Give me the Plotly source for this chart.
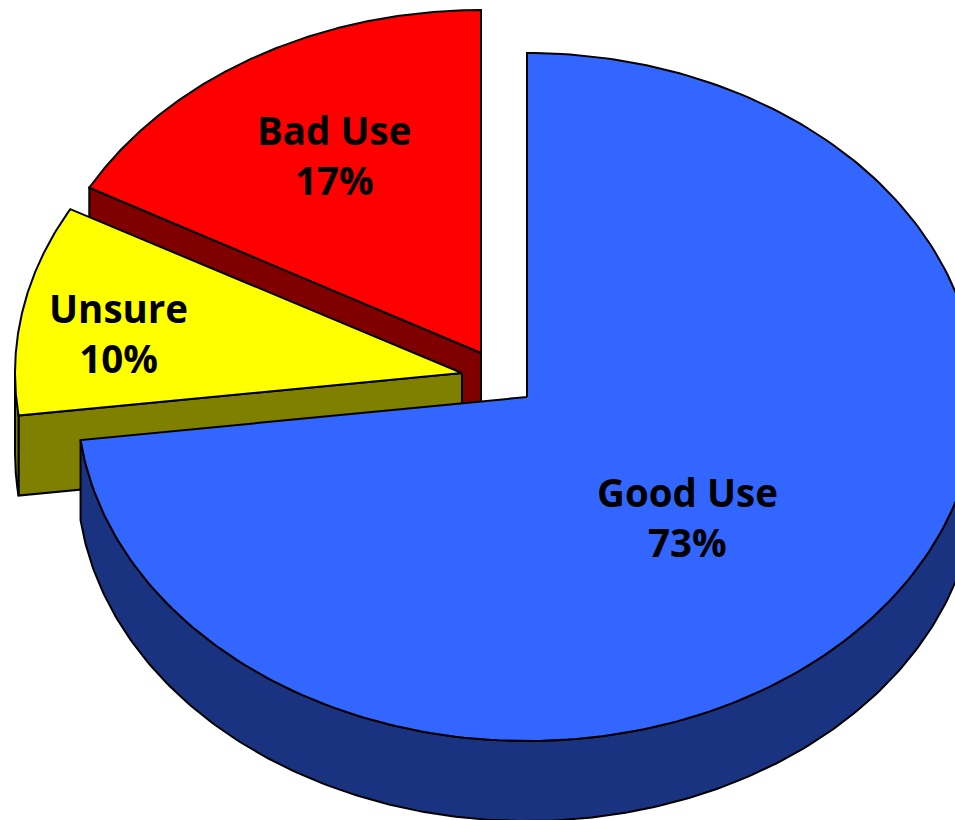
import numpy as np
import plotly.graph_objects as go

categories = ["Good Use", "Unsure", "Bad Use"]
values = [73, 10, 17]
top_colors = ["#3366FF", "#FFFF00", "#FF0000"]
side_colors = ["#1A3380", "#808000", "#800000"]

# projection of the tilted pie, in pixel-sized axis units
apex_x = [527, 462, 481]
apex_y = [397, 373, 353]
label_x = [687, 118, 334]
label_y = [517, 333, 155]
radius_x = [450, 447, 447]
radius_y = [344, 340, 343]
DEPTH = 80

fig = go.Figure()


def arc(i, t0, t1):
    t = np.radians(np.linspace(t0, t1, 240))
    return apex_x[i] + radius_x[i] * np.sin(t), apex_y[i] - radius_y[i] * np.cos(t)


def poly(x, y, color):
    fig.add_trace(go.Scatter(
        x=list(x), y=list(y), mode="lines", fill="toself", fillcolor=color,
        line=dict(color="black", width=2), hoverinfo="skip", showlegend=False))


edges = np.cumsum([0] + values) * 3.6
# painter's order: back slice to front slice
for i in [2, 1, 0]:
    t0, t1 = edges[i], edges[i + 1]
    cx, cy = apex_x[i], apex_y[i]
    # radial wall on the later edge of the slice
    ex, ey = arc(i, t0, t0 + 1e-6)
    if i > 0:
        poly([cx, ex[0], ex[0], cx, cx], [cy, ey[0], ey[0] + DEPTH, cy + DEPTH, cy], side_colors[i])
    # outer rim wall (only the part facing the viewer)
    lo, hi = max(t0, 90), min(t1, 270)
    if hi > lo:
        ax, ay = arc(i, lo, hi)
        poly(np.r_[ax, ax[::-1], ax[0]], np.r_[ay, ay[::-1] + DEPTH, ay[0]], side_colors[i])
    # top face
    ax, ay = arc(i, t0, t1)
    poly(np.r_[cx, ax, cx], np.r_[cy, ay, cy], top_colors[i])

for name, v, x, y in zip(categories, values, label_x, label_y):
    fig.add_annotation(x=x, y=y, text=f"<b>{name}<br>{v}%</b>", showarrow=False,
                       font=dict(family="Open Sans, sans-serif", size=38.5, color="black"),
                       align="center")

fig.update_xaxes(range=[0, 955], visible=False, fixedrange=True)
fig.update_yaxes(range=[820, 0], visible=False, fixedrange=True)
fig.update_layout(width=955, height=820, margin=dict(l=0, r=0, t=0, b=0),
                  paper_bgcolor="white", plot_bgcolor="white", showlegend=False)
fig.write_html("out.html", config={"displayModeBar": False},
               post_script="document.body.style.margin='0';document.body.style.overflow='hidden';")
